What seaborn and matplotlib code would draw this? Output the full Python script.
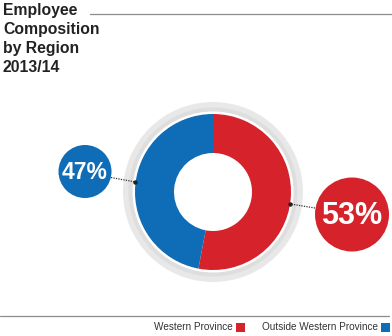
import matplotlib
matplotlib.use("Agg")
import matplotlib.pyplot as plt
from matplotlib.patches import Circle, Wedge, Rectangle
import seaborn as sns

# Employee composition by region, 2013/14
regions = ["Western Province", "Outside Western Province"]
shares = [53, 47]
title_lines = ["Employee", "Composition", "by Region", "2013/14"]

sns.set_theme(style="white")
plt.rcParams["font.family"] = ["Liberation Sans", "DejaVu Sans"]
palette = sns.color_palette(["#d6232b", "#0f6cb6"])

W, H = 392, 336
fig = plt.figure(figsize=(W / 100, H / 100), dpi=100)
ax = fig.add_axes([0, 0, 1, 1])

cx, cy = 213, 192
# soft grey halo around the donut
ax.add_patch(Wedge((cx, cy), 90, 0, 360, width=6, facecolor="#e8e8e8", edgecolor="none"))
ax.add_patch(Wedge((cx, cy), 84.5, 0, 360, width=4, facecolor="#dedede", edgecolor="none"))

# donut: starts at 12 o'clock, runs clockwise (y axis is flipped below)
wedges, _ = ax.pie(shares, colors=palette, startangle=-90, counterclock=True,
                   center=(cx, cy), radius=78, frame=True,
                   wedgeprops=dict(width=39, edgecolor="none"))

# value bubbles with dotted leaders
bubbles = [
    dict(center=(352, 214.5), r=37, size=22, anchor=(290.5, 204), start=(315, 208)),
    dict(center=(85, 171.5), r=26.5, size=16.5, anchor=(135.5, 182), start=(111, 177.5)),
]
for share, color, b in zip(shares, palette, bubbles):
    ax.plot([b["start"][0], b["anchor"][0]], [b["start"][1], b["anchor"][1]],
            linestyle=(0, (1, 1)), color="#333333", linewidth=0.9, zorder=3)
    ax.plot(*b["anchor"], marker="o", markersize=2.2, color="#222222", zorder=4)
    ax.add_patch(Circle(b["center"], b["r"], facecolor=color, edgecolor="none", zorder=5))
    ax.text(b["center"][0], b["center"][1] + 1, f"{share}%", color="white",
            fontsize=b["size"], fontweight="bold", ha="center", va="center", zorder=6)

# title block
ax.text(3, 3.5, "\n".join(title_lines), fontsize=11.3, fontweight="bold", color="#222222",
        ha="left", va="top", linespacing=1.32)
ax.plot([90, W], [14, 14], color="#8c8c8c", linewidth=0.9)
ax.plot([0, 389], [316, 316], color="#8c8c8c", linewidth=0.9)

# legend row
legend_pos = [(233, 236.5), (378, 381.5)]
for name, color, (tx, sx) in zip(regions, palette, legend_pos):
    ax.text(tx, 327.5, name, fontsize=7.2, color="#333333", ha="right", va="center")
    ax.add_patch(Rectangle((sx, 322.5), 9, 9, facecolor=color, edgecolor="none"))

ax.set_xlim(0, W)
ax.set_ylim(H, 0)
ax.set_aspect("equal")
ax.axis("off")

fig.savefig("out.png", dpi=100, facecolor="white")
